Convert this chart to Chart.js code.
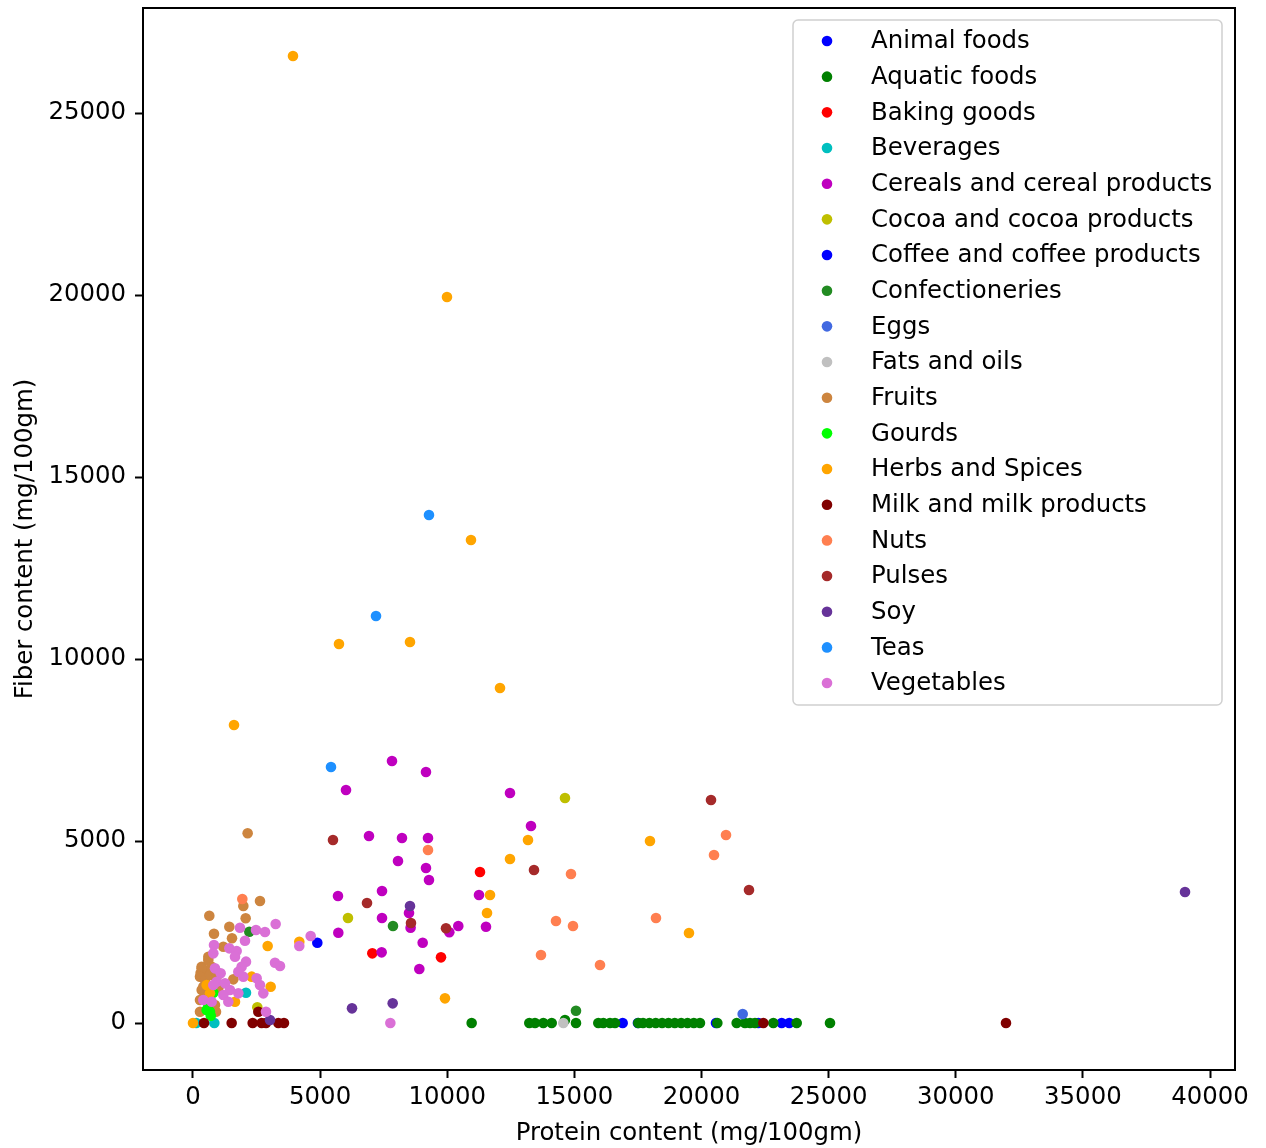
<!DOCTYPE html>
<html>
<head>
<meta charset="utf-8">
<script src="https://cdn.jsdelivr.net/npm/chart.js@4.4.1/dist/chart.umd.min.js"></script>
<style>
  html, body { margin: 0; padding: 0; background: #fff; }
  #wrap { width: 1266px; height: 1148px; position: relative; }
</style>
</head>
<body>
<div id="wrap"><canvas id="mainChart"></canvas></div>
<script>
// [protein, fiber] pairs per food group (mg/100gm)
const animalFoods = [[16900, 0], [17500, 0], [20570, 0], [22235, 0], [23154, 0], [23451, 0]];
const aquaticFoods = [[10960, 0], [13228, 0], [13451, 0], [13778, 0], [14108, 0], [14631, 82], [15064, 0],
  [15942, 0], [16139, 0], [16401, 0], [16598, 0], [17515, 0], [17700, 0], [17950, 0], [18200, 0], [18450, 0],
  [18700, 0], [18950, 0], [19200, 0], [19450, 0], [19700, 0], [19940, 0], [20622, 0], [21384, 0], [21711, 0],
  [21908, 0], [22104, 0], [22825, 0], [23744, 0], [25054, 0]];
const bakingGoods = [[11288, 4148], [7053, 1914], [9754, 1804]];
const beverages = [[2085, 833], [130, 0], [839, 0]];
const cereals = [[7827, 7198], [9164, 6896], [6018, 6401], [12468, 6319], [13294, 5412], [6922, 5137],
  [8220, 5082], [9243, 5082], [8063, 4451], [9164, 4258], [9282, 3928], [7434, 3626], [5703, 3489],
  [11249, 3516], [8496, 3022], [7434, 2885], [8558, 2620], [10081, 2492], [10435, 2665], [11524, 2646],
  [5716, 2481], [9034, 2206], [7420, 1941], [8902, 1483]];
const cocoa = [[14631, 6181], [6096, 2885], [2530, 430]];
const coffee = [[4890, 2206]];
const confectioneries = [[2216, 2509], [7866, 2665], [15064, 338]];
const eggs = [[21620, 247]];
const fatsOils = [[14566, 0]];
const fruits = [[2150, 5212], [1980, 3214], [2635, 3352], [642, 2948], [2072, 2876], [1429, 2646],
  [826, 2454], [1534, 2327], [1193, 2097], [603, 1822], [340, 1547], [470, 1450], [300, 1373],
  [1587, 1199], [406, 998], [275, 311], [905, 311], [603, 1731], [341, 1502], [734, 1547], [275, 1273],
  [472, 1181], [669, 1319], [931, 1273], [341, 907], [275, 632], [996, 952], [537, 724], [865, 495]];
const gourds = [[800, 833], [537, 357], [669, 311], [700, 200], [600, 500]];
const herbsSpices = [[3933, 26566], [9990, 19945], [10934, 13269], [5742, 10412], [8535, 10467],
  [12075, 9203], [1613, 8187], [13176, 5027], [17974, 5000], [12468, 4505], [11682, 3516], [11564, 3022],
  [19508, 2472], [9911, 678], [4181, 2234], [2937, 2115], [3055, 998], [537, 1044], [669, 815],
  [1652, 586], [0, 0], [2308, 1273]];
const milk = [[433, 0], [1521, 0], [2347, 0], [2700, 0], [2871, 0], [3356, 0], [3579, 0], [2570, 311],
  [22432, 0], [31976, 0]];
const nuts = [[1940, 3407], [20964, 5165], [9243, 4753], [20492, 4615], [14867, 4093], [18210, 2885],
  [14277, 2802], [14946, 2665], [13687, 1868], [16008, 1593]];
const pulses = [[20374, 6126], [5506, 5027], [13412, 4203], [21868, 3654], [6844, 3297], [8574, 2747],
  [9951, 2602]];
const soy = [[39017, 3599], [8535, 3214], [6254, 403], [7854, 540], [3029, 82]];
const teas = [[9282, 13956], [7198, 11181], [5428, 7033]];
const vegetables = [[1848, 2619], [2478, 2555], [2832, 2500], [3252, 2720], [2045, 2261], [4629, 2390],
  [4181, 2115], [826, 2143], [1429, 2051], [1717, 1978], [1652, 1822], [800, 1914], [2085, 1685],
  [1913, 1547], [3225, 1657], [3422, 1566], [865, 1502], [1088, 1364], [1783, 1410], [1980, 1273],
  [2504, 1227], [931, 1135], [1259, 1090], [800, 1044], [2635, 1044], [2766, 815], [1455, 907],
  [1783, 815], [1193, 769], [1390, 586], [406, 632], [735, 586], [2871, 311], [7762, 0]];

const groups = [
  ["Animal foods", animalFoods, "#0000ff"],
  ["Aquatic foods", aquaticFoods, "#008000"],
  ["Baking goods", bakingGoods, "#ff0000"],
  ["Beverages", beverages, "#00bfbf"],
  ["Cereals and cereal products", cereals, "#bf00bf"],
  ["Cocoa and cocoa products", cocoa, "#bfbf00"],
  ["Coffee and coffee products", coffee, "#0000ff"],
  ["Confectioneries", confectioneries, "#228b22"],
  ["Eggs", eggs, "#4169e1"],
  ["Fats and oils", fatsOils, "#c0c0c0"],
  ["Fruits", fruits, "#cd853f"],
  ["Gourds", gourds, "#00ff00"],
  ["Herbs and Spices", herbsSpices, "#ffa500"],
  ["Milk and milk products", milk, "#800000"],
  ["Nuts", nuts, "#ff7f50"],
  ["Pulses", pulses, "#a52a2a"],
  ["Soy", soy, "#663399"],
  ["Teas", teas, "#1e90ff"],
  ["Vegetables", vegetables, "#da70d6"]
];

const xTicks = [0, 5000, 10000, 15000, 20000, 25000, 30000, 35000, 40000];
const yTicks = [0, 5000, 10000, 15000, 20000, 25000];

const FONT = "'DejaVu Sans', sans-serif";
const FS = 24.4;

const datasets = groups.map(([label, pts, color], i) => ({
  label: label,
  data: pts.map(p => ({ x: p[0], y: p[1] })),
  backgroundColor: color,
  borderColor: color,
  borderWidth: 0,
  pointRadius: 5.3,
  pointHoverRadius: 5.3,
  order: groups.length - i
}));

// frame + legend box like matplotlib
const framePlugin = {
  id: "frame",
  afterDatasetsDraw(chart) {
    const { ctx, chartArea: a } = chart;
    ctx.save();
    ctx.strokeStyle = "#000";
    ctx.lineWidth = 2;
    ctx.strokeRect(a.left, a.top, a.right - a.left, a.bottom - a.top);

    // legend
    const bx = 793, by = 20, bw = 429, bh = 685, r = 5;
    ctx.beginPath();
    ctx.moveTo(bx + r, by);
    ctx.arcTo(bx + bw, by, bx + bw, by + bh, r);
    ctx.arcTo(bx + bw, by + bh, bx, by + bh, r);
    ctx.arcTo(bx, by + bh, bx, by, r);
    ctx.arcTo(bx, by, bx + bw, by, r);
    ctx.closePath();
    ctx.fillStyle = "rgba(255,255,255,0.8)";
    ctx.fill();
    ctx.strokeStyle = "#d0d0d0";
    ctx.lineWidth = 1.5;
    ctx.stroke();

    ctx.font = FS + "px " + FONT;
    ctx.textBaseline = "middle";
    ctx.textAlign = "left";
    chart.data.datasets.forEach((ds, i) => {
      const y = 41 + i * 35.67;
      ctx.beginPath();
      ctx.arc(827, y, 5.3, 0, Math.PI * 2);
      ctx.fillStyle = ds.backgroundColor;
      ctx.fill();
      ctx.fillStyle = "#000";
      ctx.fillText(ds.label, 871, y + 1);
    });
    ctx.restore();
  }
};

new Chart(document.getElementById("mainChart"), {
  type: "scatter",
  data: { datasets },
  plugins: [framePlugin],
  options: {
    responsive: true,
    maintainAspectRatio: false,
    animation: false,
    layout: { padding: { top: 8, right: 31, left: 0, bottom: 0 } },
    plugins: {
      legend: { display: false },
      tooltip: { enabled: false }
    },
    scales: {
      x: {
        type: "linear",
        min: -1966,
        max: 40983,
        afterBuildTicks: s => { s.ticks = xTicks.map(v => ({ value: v })); },
        afterFit: s => { s.height = 78; s.paddingLeft = 0; s.paddingRight = 0; },
        ticks: {
          color: "#000",
          font: { family: FONT, size: FS },
          padding: 5,
          maxRotation: 0,
          callback: v => String(v)
        },
        grid: { drawOnChartArea: false, drawTicks: true, tickLength: 8, tickWidth: 2, color: "#000" },
        border: { display: true, color: "#000", width: 2 },
        title: {
          display: true,
          text: "Protein content (mg/100gm)",
          color: "#000",
          font: { family: FONT, size: FS },
          padding: { top: 0, bottom: 0 }
        }
      },
      y: {
        type: "linear",
        min: -1291,
        max: 27885,
        afterBuildTicks: s => { s.ticks = yTicks.map(v => ({ value: v })); },
        afterFit: s => { s.width = 143; s.paddingTop = 0; s.paddingBottom = 0; },
        ticks: {
          color: "#000",
          font: { family: FONT, size: FS },
          padding: 9,
          callback: v => String(v)
        },
        grid: { drawOnChartArea: false, drawTicks: true, tickLength: 8, tickWidth: 2, color: "#000" },
        border: { display: true, color: "#000", width: 2 },
        title: {
          display: true,
          text: "Fiber content (mg/100gm)",
          color: "#000",
          font: { family: FONT, size: FS },
          padding: { top: 11, bottom: 0 }
        }
      }
    }
  }
});
</script>
</body>
</html>
